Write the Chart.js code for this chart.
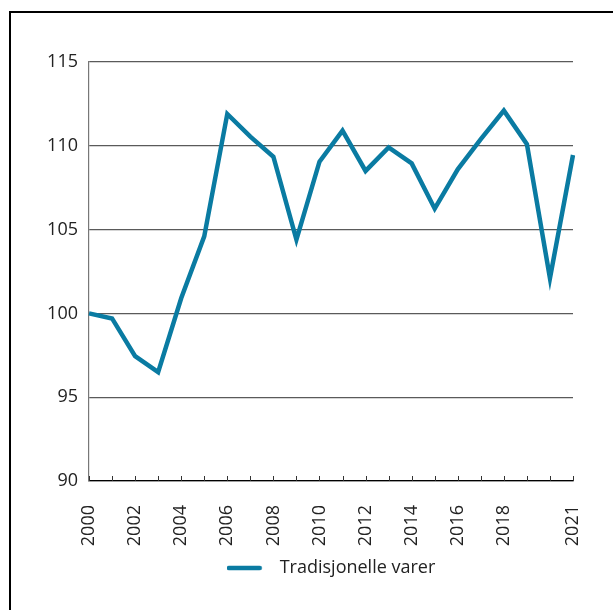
<!DOCTYPE html>
<html>
<head>
<meta charset="utf-8">
<script src="https://cdn.jsdelivr.net/npm/chart.js@4"></script>
<style>
    body { margin: 0; background: #fff; }
    #wrap { position: relative; width: 613px; height: 610px; }
    #frame { position: absolute; left: 9px; top: 11px; right: 0; bottom: 0;
             border-left: 2px solid #000; border-top: 2px solid #000; pointer-events: none; }
</style>
</head>
<body>
<div id="wrap">
    <canvas id="chart-line-varer" width="613" height="610"></canvas>
    <div id="frame"></div>
</div>
<script>
let years = ['2000', '2001', '2002', '2003', '2004', '2005', '2006', '2007', '2008', '2009', '2010',
    '2011', '2012', '2013', '2014', '2015', '2016', '2017', '2018', '2019', '2020', '2021'];
let shownYears = ['2000', '2002', '2004', '2006', '2008', '2010', '2012', '2014', '2016', '2018', '2021'];
let tradisjonelle = [100, 99.7, 97.45, 96.5, 100.9, 104.6, 111.9, 110.55, 109.35, 104.4, 109.05,
    110.9, 108.5, 109.9, 108.95, 106.25, 108.6, 110.4, 112.1, 110.1, 102.1, 109.45];
let yTicks = [90, 95, 100, 105, 110, 115];

let blue = '#0a7ba2';
let font = { family: 'Open Sans', size: 18 };

// legend symbol: short thick line, extra room to the right before the text
let sym = document.createElement('canvas');
sym.width = 44;
sym.height = 6;
let sctx = sym.getContext('2d');
sctx.strokeStyle = blue;
sctx.lineWidth = 4.5;
sctx.lineCap = 'round';
sctx.beginPath();
sctx.moveTo(2, 3);
sctx.lineTo(33, 3);
sctx.stroke();

// small tick marks pointing up from the x axis, one per year
let innerTicks = {
    id: 'innerTicks',
    afterDraw(chart) {
        let x = chart.scales.x;
        let ctx = chart.ctx;
        ctx.save();
        ctx.strokeStyle = '#333';
        ctx.lineWidth = 1;
        years.forEach((y, i) => {
            let px = Math.round(x.getPixelForValue(i)) + 0.5;
            ctx.beginPath();
            ctx.moveTo(px, x.top);
            ctx.lineTo(px, x.top - 5);
            ctx.stroke();
        });
        ctx.restore();
    }
};

new Chart(document.getElementById('chart-line-varer').getContext('2d'), {
    type: 'line',
    data: {
        labels: years,
        datasets: [{
            label: 'Tradisjonelle varer',
            data: tradisjonelle,
            borderColor: blue,
            backgroundColor: blue,
            borderWidth: 4.5,
            pointRadius: 0,
            tension: 0,
            pointStyle: sym,
        }]
    },
    options: {
        responsive: false,
        animation: false,
        layout: { padding: { top: 62, right: 40, bottom: 23, left: 0 } },
        plugins: {
            legend: {
                display: true,
                position: 'bottom',
                fullSize: false,
                onClick: null,
                labels: {
                    usePointStyle: true,
                    pointStyleWidth: 44,
                    font: font,
                    color: '#222',
                    padding: 9,
                }
            },
            tooltip: { enabled: false }
        },
        scales: {
            x: {
                offset: false,
                grid: { display: false },
                border: { display: true, color: '#000', width: 1.2 },
                ticks: {
                    autoSkip: false,
                    minRotation: 90,
                    maxRotation: 90,
                    padding: 16,
                    font: font,
                    color: '#222',
                    callback: function (v, i) {
                        return shownYears.includes(years[i]) ? years[i] : '';
                    }
                },
                afterFit: function (scale) { scale.height = 69; }
            },
            y: {
                min: 90,
                max: 115,
                afterBuildTicks: function (scale) { scale.ticks = yTicks.map(v => ({ value: v })); },
                grid: { color: '#5a5a5a', lineWidth: 1.2, drawTicks: false },
                border: { display: true, color: '#777', width: 1.2 },
                ticks: { padding: 11, font: font, color: '#222' },
                afterFit: function (scale) { scale.width = 89; }
            }
        }
    },
    plugins: [innerTicks]
});
</script>
</body>
</html>
